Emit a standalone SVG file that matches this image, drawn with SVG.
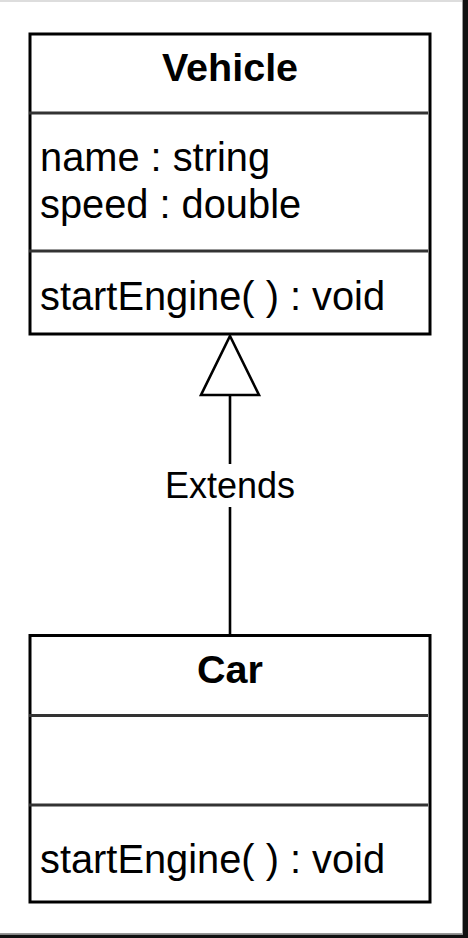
<svg xmlns="http://www.w3.org/2000/svg" width="468" height="938" viewBox="0 0 468 938">
<style>
.box{fill:#fff;stroke:#000;stroke-width:3}
.div{stroke:#333;stroke-width:3}
.t{font-family:"Liberation Sans",Arial,sans-serif;font-size:39.8px;fill:#000}
.b{font-weight:bold;text-anchor:middle;font-size:39.5px}
.edge{stroke:#000;stroke-width:2.6;fill:none}
</style>
<rect x="0" y="0" width="468" height="938" fill="#fff"/>
<g id="frame">
<line x1="0" y1="1" x2="462" y2="1" stroke="#bbb" stroke-width="1"/>
<line x1="462.5" y1="0" x2="462.5" y2="934" stroke="#999" stroke-width="1"/>
<line x1="0" y1="933.5" x2="463" y2="933.5" stroke="#999" stroke-width="1"/>
<rect x="463" y="0" width="5" height="938" fill="#111"/>
<rect x="0" y="934.5" width="468" height="4" fill="#111"/>
</g>
<g id="connectors">
<line class="edge" x1="230" y1="395" x2="230" y2="634"/>
<polygon class="edge" points="230,336 259,395 201,395" style="fill:#fff"/>
<rect x="160" y="464" width="140" height="43" fill="#fff"/>
<text class="t" x="230" y="498" text-anchor="middle" style="font-size:36px">Extends</text>
</g>
<g id="vehicle">
<rect class="box" x="30" y="34" width="400" height="300"/>
<line class="div" x1="29" y1="113" x2="428" y2="113"/>
<line class="div" x1="29" y1="251" x2="428" y2="251"/>
<text class="t b" x="230" y="81">Vehicle</text>
<text class="t" x="40" y="171">name : string</text>
<text class="t" x="40" y="218">speed : double</text>
<text class="t" x="40" y="310">startEngine( ) : void</text>
</g>
<g id="car">
<rect class="box" x="30" y="635.5" width="400" height="266.5"/>
<line class="div" x1="29" y1="715.5" x2="428" y2="715.5"/>
<line class="div" x1="29" y1="805" x2="428" y2="805"/>
<text class="t b" x="230" y="683">Car</text>
<text class="t" x="40" y="873">startEngine( ) : void</text>
</g>
</svg>
